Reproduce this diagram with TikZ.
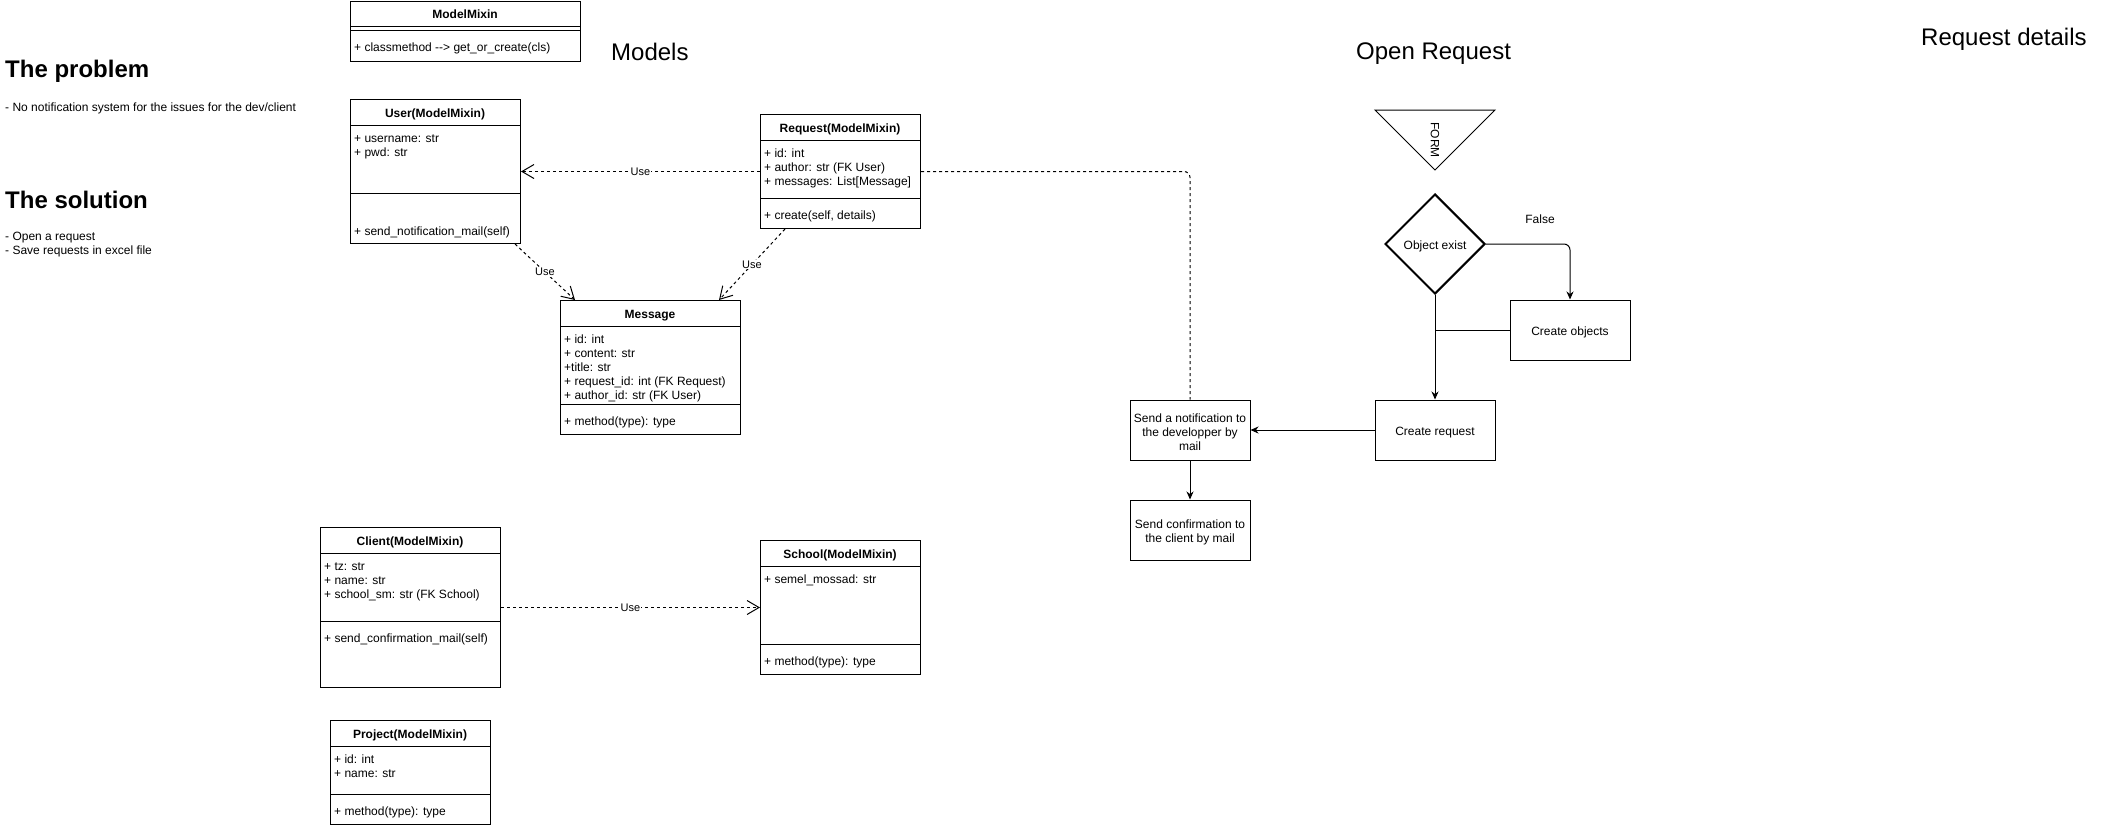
\documentclass[tikz,border=0pt]{standalone}
\usepackage{fontspec}
\setmainfont{Liberation Sans}
\usetikzlibrary{arrows.meta,shapes.geometric}

\newcommand{\flowstrut}{\rule{0pt}{13pt}}

\tikzset{
	classbox/.style={draw, line width=1pt, anchor=north west, inner sep=0pt},
	clstitle/.style={font=\fontsize{12}{14}\selectfont\bfseries, anchor=base, inner sep=0pt},
	member/.style={font=\fontsize{12}{14}\selectfont, anchor=base west, inner sep=0pt},
	heading/.style={font=\fontsize{24}{28}\selectfont, anchor=base west, inner sep=0pt},
	plaintext/.style={font=\fontsize{12}{14}\selectfont, anchor=base west, inner sep=0pt},
	flowbox/.style={draw, line width=1pt, minimum width=120, minimum height=60, align=center, font=\fontsize{12}{14}\selectfont},
	flowarrow/.style={line width=1pt, -{Stealth[length=8pt, width=7pt, inset=2.5pt]}},
	useline/.style={line width=1pt, dash pattern=on 3pt off 3pt},
	usearrow/.style={useline, -{Straight Barb[length=12pt, width=14pt, line width=1pt]}},
	uselabel/.style={fill=white, inner sep=1pt, font=\fontsize{11}{13}\selectfont}
}

\begin{document}
\begin{tikzpicture}[x=1pt, y=-1pt]
				\fill[white] (0,0) rectangle (2111,828);
				
				% left notes
				\node[heading, font=\fontsize{24}{28}\selectfont\bfseries] at (5,77) {The problem};
				\node[plaintext] at (5,111) {- No notification system for the issues for the dev/client};
				\node[heading, font=\fontsize{24}{28}\selectfont\bfseries] at (5,208) {The solution};
				\node[plaintext] at (5,240) {- Open a request};
				\node[plaintext] at (5,254) {- Save requests in excel file};
				
				\node[heading] at (611,60) {Models};
				\node[heading] at (1356,59) {Open Request};
				\node[heading] at (1921,45) {Request details};
				
				% ModelMixin
				\node[classbox, minimum width=230, minimum height=60] (mixin) at (350,0.5) {};
				\draw (350,26) -- (580,26);
				\draw (350,30) -- (580,30);
				\node[clstitle] at (465,18) {ModelMixin};
				\node[member] at (354,51) {+ classmethod -{}-> get\_or\_create(cls)};
				
				% User
				\node[classbox, minimum width=170, minimum height=144] (user) at (350,99) {};
				\draw (350,125) -- (520,125);
				\draw (350,193) -- (520,193);
				\node[clstitle] at (435,117) {User(ModelMixin)};
				\node[member] at (354,142) {+ username: str};
				\node[member] at (354,156) {+ pwd: str};
				\node[member] at (354,235) {+ send\_notification\_mail(self)};
				
				% Request
				\node[classbox, minimum width=160, minimum height=114] (req) at (760,114) {};
				\draw (760,140) -- (920,140);
				\draw (760,198) -- (920,198);
				\node[clstitle] at (840,132) {Request(ModelMixin)};
				\node[member] at (764,157) {+ id: int};
				\node[member] at (764,171) {+ author: str (FK User)};
				\node[member] at (764,185) {+ messages: List[Message]};
				\node[member] at (764,219) {+ create(self, details)};
				
				% Message
				\node[classbox, minimum width=180, minimum height=134] (msg) at (560,300) {};
				\draw (560,326) -- (740,326);
				\draw (560,404) -- (740,404);
				\node[clstitle] at (650,318) {Message};
				\node[member] at (564,343) {+ id: int};
				\node[member] at (564,357) {+ content: str};
				\node[member] at (564,371) {+title: str};
				\node[member] at (564,385) {+ request\_id: int (FK Request)};
				\node[member] at (564,399) {+ author\_id: str (FK User)};
				\node[member] at (564,425) {+ method(type): type};
				
				% Client
				\node[classbox, minimum width=180, minimum height=160] (client) at (320,527) {};
				\draw (320,553) -- (500,553);
				\draw (320,621) -- (500,621);
				\node[clstitle] at (410,545) {Client(ModelMixin)};
				\node[member] at (324,570) {+ tz: str};
				\node[member] at (324,584) {+ name: str};
				\node[member] at (324,598) {+ school\_sm: str (FK School)};
				\node[member] at (324,642) {+ send\_confirmation\_mail(self)};
				
				% School
				\node[classbox, minimum width=160, minimum height=134] (school) at (760,540) {};
				\draw (760,566) -- (920,566);
				\draw (760,644) -- (920,644);
				\node[clstitle] at (840,558) {School(ModelMixin)};
				\node[member] at (764,583) {+ semel\_mossad: str};
				\node[member] at (764,665) {+ method(type): type};
				
				% Project
				\node[classbox, minimum width=160, minimum height=104] (project) at (330,720) {};
				\draw (330,746) -- (490,746);
				\draw (330,794) -- (490,794);
				\node[clstitle] at (410,738) {Project(ModelMixin)};
				\node[member] at (334,763) {+ id: int};
				\node[member] at (334,777) {+ name: str};
				\node[member] at (334,815) {+ method(type): type};
				
				% uses
				\draw[usearrow] (req.west) -- node[uselabel] {Use} (user.east);
				\draw[usearrow] ([xshift=-6pt]user.south east) -- node[uselabel] {Use} ([xshift=15pt]msg.north west);
				\draw[usearrow] ([xshift=25pt]req.south west) -- node[uselabel] {Use} ([xshift=-22pt]msg.north east);
				\draw[usearrow] (client.east) -- node[uselabel] {Use} (school.west);
				
				% open request flow
				\draw[line width=1pt] (1375,110) -- (1495,110) -- (1435,170) -- cycle;
				\node[rotate=-90, font=\fontsize{12}{14}\selectfont] (form) at (1435,140) {FORM};
				
				\node[draw, diamond, line width=2pt, minimum width=100, minimum height=100, inner sep=0pt, font=\fontsize{12}{14}\selectfont] (exist) at (1435,244) {\flowstrut Object exist};
				\node[flowbox] (cobj) at (1570,330) {\flowstrut Create objects};
				\node[flowbox] (creq) at (1435,430) {\flowstrut Create request};
				\node[flowbox] (notif) at (1190,430) {\flowstrut Send a notification to\\the developper by\\mail};
				\node[flowbox] (conf) at (1190,530) {\flowstrut Send confirmation to\\the client by mail};
				\node[font=\fontsize{12}{14}\selectfont] (false) at (1540,219) {False};
				
				\draw[flowarrow, rounded corners=6pt] (exist.east) -| (cobj.north);
				\draw[line width=1pt] (cobj.west) -- (cobj.west -| exist.south);
				\draw[flowarrow] (exist.south) -- (creq.north);
				\draw[flowarrow] (creq.west) -- (notif.east);
				\draw[flowarrow] (notif.south) -- (conf.north);
				
				\draw[useline, rounded corners=6pt] (req.east) -| (notif.north);
\end{tikzpicture}
\end{document}
